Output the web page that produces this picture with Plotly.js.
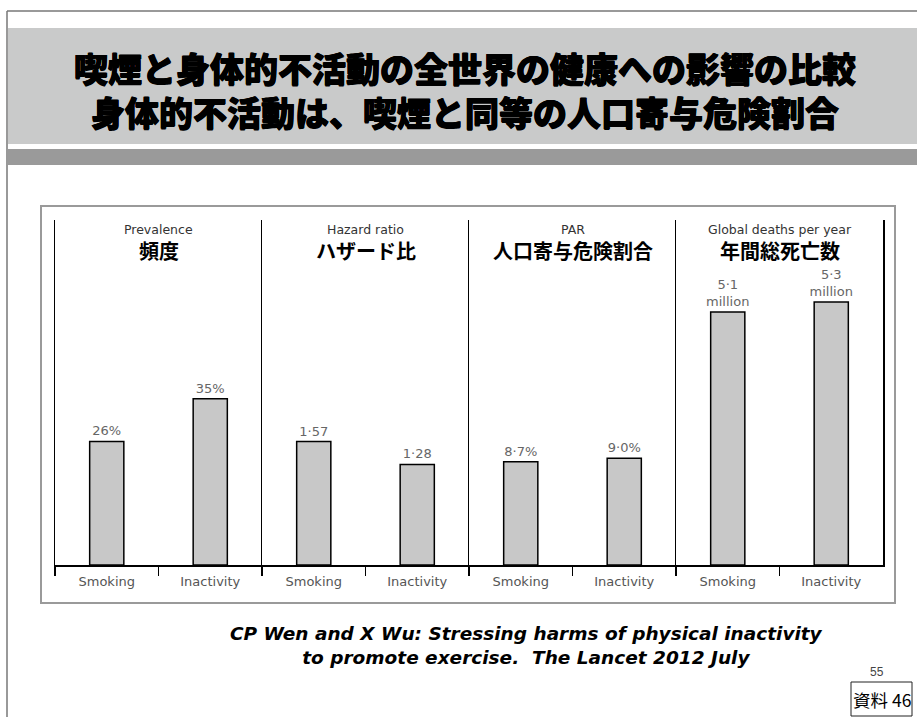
<!DOCTYPE html>
<html>
<head>
<meta charset="utf-8">
<script src="https://cdn.plot.ly/plotly-3.0.1.min.js"></script>
<style>html,body{margin:0;padding:0;background:#fff;}#chart{width:917px;height:717px;}</style>
</head>
<body>
<div id="chart"></div>
<script>
// ---- data ----
const categories = ['Smoking', 'Inactivity'];
const panelTitlesEn = ['Prevalence', 'Hazard ratio', 'PAR', 'Global deaths per year'];
const panelTitlesJa = ['頻度', 'ハザード比', '人口寄与危険割合', '年間総死亡数'];
const prevalence = [26, 35];
const prevalenceLabels = ['26%', '35%'];
const hazardRatio = [1.57, 1.28];
const hazardLabels = ['1·57', '1·28'];
const parValues = [8.7, 9.0];
const parLabels = ['8·7%', '9·0%'];
const deaths = [5.1, 5.3];
const deathsLabels = ['5·1<br>million', '5·3<br>million'];
const titleLines = ['喫煙と身体的不活動の全世界の健康への影響の比較', '身体的不活動は、喫煙と同等の人口寄与危険割合'];
const citation = 'CP Wen and X Wu: Stressing harms of physical inactivity<br>to promote exercise.  The Lancet 2012 July';
const pageNumber = '55';
const docLabel = '資料 46';

// ---- layout helpers ----
const W = 917, H = 717;
const px = x => x / W;
const py = y => 1 - y / H;
const panelEdges = [55, 262, 469, 676, 883];
const yTop = 220, yBase = 565;
const yMax = [72.6, 4.39, 29.1, 6.955];
const seriesVals = [prevalence, hazardRatio, parValues, deaths];
const seriesLabels = [prevalenceLabels, hazardLabels, parLabels, deathsLabels];

const traces = [];
const layout = {
  width: W, height: H,
  margin: {l: 0, r: 0, t: 0, b: 0},
  paper_bgcolor: '#ffffff', plot_bgcolor: 'rgba(0,0,0,0)',
  showlegend: false,
  shapes: [], annotations: []
};

const latin = 'DejaVu Sans, sans-serif';
const labelFont = {family: latin, size: 13, color: '#666666'};

for (let i = 0; i < 4; i++) {
  const sfx = i === 0 ? '' : String(i + 1);
  traces.push({
    type: 'bar',
    x: categories,
    y: seriesVals[i],
    text: seriesLabels[i],
    textposition: 'outside',
    textfont: labelFont,
    constraintext: 'none',
    cliponaxis: false,
    width: 0.33,
    marker: {color: '#c8c8c8', line: {color: '#000000', width: 1.5}},
    hoverinfo: 'none',
    xaxis: 'x' + sfx, yaxis: 'y' + sfx
  });
  layout['xaxis' + sfx] = {
    domain: [px(panelEdges[i]), px(panelEdges[i + 1])],
    anchor: 'y' + sfx,
    type: 'category',
    range: [-0.5, 1.5],
    showline: true, linecolor: '#000000', linewidth: 1.5,
    ticks: 'outside', tickson: 'boundaries', ticklen: 9, tickwidth: 1.5, tickcolor: '#000000',
    ticklabelstandoff: 4,
    tickfont: {family: latin, size: 13, color: '#555555'},
    showgrid: false, zeroline: false, fixedrange: true
  };
  layout['yaxis' + sfx] = {
    domain: [py(yBase), py(yTop)],
    anchor: 'x' + sfx,
    range: [0, yMax[i]],
    showline: true, linecolor: '#000000', linewidth: 1.5,
    mirror: i === 3,
    showticklabels: false, ticks: '', showgrid: false, zeroline: false, fixedrange: true
  };
  const cx = px((panelEdges[i] + panelEdges[i + 1]) / 2);
  layout.annotations.push({
    text: panelTitlesEn[i], xref: 'paper', yref: 'paper', x: cx, y: py(229),
    xanchor: 'center', yanchor: 'middle', showarrow: false,
    font: {family: latin, size: 12.5, color: '#333333'}
  });
  layout.annotations.push({
    text: panelTitlesJa[i], xref: 'paper', yref: 'paper', x: cx, y: py(251),
    xanchor: 'center', yanchor: 'middle', showarrow: false,
    font: {family: 'Noto Sans CJK JP, sans-serif', size: 20, color: '#000000', weight: 700}
  });
}

// slide decorations
layout.shapes.push(
  {type: 'line', xref: 'paper', yref: 'paper', x0: px(7), x1: px(917), y0: py(11), y1: py(11), line: {color: '#777777', width: 1.5}},
  {type: 'line', xref: 'paper', yref: 'paper', x0: px(7), x1: px(7), y0: py(11), y1: py(717), line: {color: '#777777', width: 1.5}},
  {type: 'rect', xref: 'paper', yref: 'paper', x0: px(8), x1: px(917), y0: py(144), y1: py(28), fillcolor: '#c9caca', line: {width: 0}, layer: 'below'},
  {type: 'rect', xref: 'paper', yref: 'paper', x0: px(8), x1: px(917), y0: py(165), y1: py(149), fillcolor: '#9a9a9a', line: {width: 0}, layer: 'below'},
  {type: 'rect', xref: 'paper', yref: 'paper', x0: px(41), x1: px(895), y0: py(603), y1: py(206), line: {color: '#9a9a9a', width: 2}, layer: 'below'},
  {type: 'rect', xref: 'paper', yref: 'paper', x0: px(851), x1: px(912), y0: py(716), y1: py(682), line: {color: '#222222', width: 1}}
);

const titleFont = {family: 'Noto Sans CJK JP, sans-serif', size: 34, color: '#000000', weight: 900,
  shadow: '0.5px 0 0 #000, -0.5px 0 0 #000, 0 0.5px 0 #000'};
layout.annotations.push(
  {text: titleLines.join('<br>'), xref: 'paper', yref: 'paper', x: px(465), y: py(89), xanchor: 'center', yanchor: 'middle',
   align: 'center', showarrow: false, font: titleFont},
  {text: citation, xref: 'paper', yref: 'paper', x: px(526), y: py(645), xanchor: 'center', yanchor: 'middle', showarrow: false,
   font: {family: 'DejaVu Sans, sans-serif', size: 18.5, color: '#000000', weight: 700, style: 'italic'}},
  {text: pageNumber, xref: 'paper', yref: 'paper', x: px(877), y: py(672), xanchor: 'center', yanchor: 'middle', showarrow: false,
   font: {family: 'Liberation Sans, Arial, sans-serif', size: 12, color: '#444444'}},
  {text: docLabel, xref: 'paper', yref: 'paper', x: px(881.5), y: py(699.5), xanchor: 'center', yanchor: 'middle', showarrow: false,
   font: {family: 'Noto Sans CJK JP, sans-serif', size: 17.5, color: '#000000'}}
);

Plotly.newPlot('chart', traces, layout, {displayModeBar: false, staticPlot: true});
</script>
</body>
</html>
